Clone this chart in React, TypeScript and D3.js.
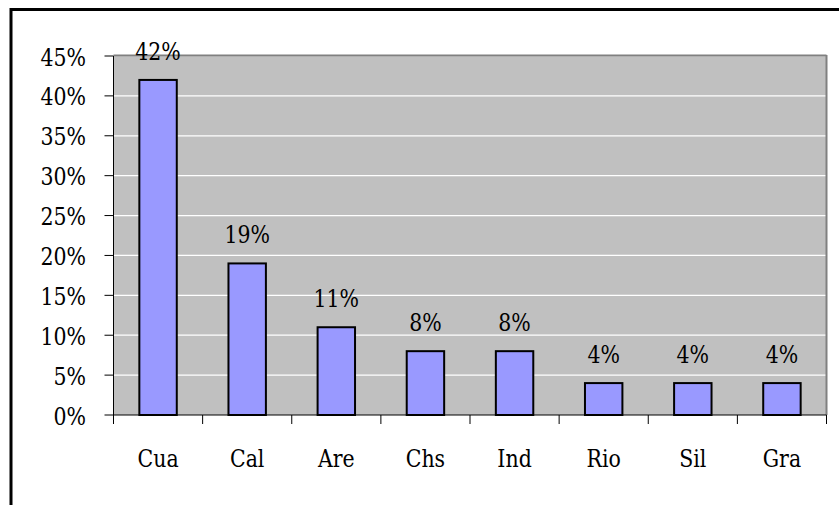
import React from "react";
import * as d3 from "d3";

const categories = ["Cua", "Cal", "Are", "Chs", "Ind", "Rio", "Sil", "Gra"];
const values = [42, 19, 11, 8, 8, 4, 4, 4];
const yTicks = [0, 5, 10, 15, 20, 25, 30, 35, 40, 45];

const font = '"DejaVu Serif", "Liberation Serif", serif';
const fs = 25;
const sx = 0.82;

function Label({ x, y, anchor, children }: { x: number; y: number; anchor: string; children: React.ReactNode }) {
  return (
    <text
      transform={`translate(${x},${y}) scale(${sx},1)`}
      textAnchor={anchor}
      style={{ fontFamily: font, fontSize: fs }}
      fill="#000"
    >
      {children}
    </text>
  );
}

export default function App() {
  const W = 839, H = 505;
  const left = 113.5, right = 826.5, top = 56, bottom = 415;
  const x = d3.scaleBand<string>().domain(categories).range([left, right]).paddingInner(0).paddingOuter(0);
  const y = d3.scaleLinear().domain([0, 45]).range([bottom, top]);
  const bw = x.bandwidth() * 0.42;
  return (
    <svg width={W} height={H} style={{ position: "absolute", left: 0, top: 0, background: "#fff" }}>
      <rect x={11} y={9.5} width={900} height={600} fill="#fff" stroke="#000" strokeWidth={3} />
      <rect x={left} y={top} width={right - left} height={bottom - top} fill="#C0C0C0" />
      {yTicks.slice(1).map((t) => (
        <line key={t} x1={left} x2={right} y1={y(t)} y2={y(t)} stroke="#FFFFFF" strokeWidth={1.2} />
      ))}
      <line x1={left} x2={right} y1={top - 0.5} y2={top - 0.5} stroke="#808080" strokeWidth={2} />
      <line x1={right} x2={right} y1={top - 1} y2={bottom} stroke="#808080" strokeWidth={2} />
      {categories.map((c, i) => {
        const cx = (x(c) as number) + x.bandwidth() / 2;
        const v = values[i];
        return (
          <g key={c}>
            <rect x={cx - bw / 2} y={y(v)} width={bw} height={bottom - y(v)} fill="#9999FF" stroke="#000" strokeWidth={2} />
            <Label x={cx} y={y(v) - 20} anchor="middle">{v}%</Label>
            <Label x={cx} y={467} anchor="middle">{c}</Label>
          </g>
        );
      })}
      <line x1={left} x2={left} y1={top} y2={bottom} stroke="#000" strokeWidth={1} />
      <line x1={left - 0.5} x2={right} y1={bottom} y2={bottom} stroke="#000" strokeWidth={1} />
      {yTicks.map((t) => (
        <g key={t}>
          <line x1={left - 9} x2={left} y1={y(t)} y2={y(t)} stroke="#000" strokeWidth={1} />
          <Label x={86} y={y(t) + 9.5} anchor="end">{t}%</Label>
        </g>
      ))}
      {categories.map((c) => (
        <line key={"t" + c} x1={x(c) as number} x2={x(c) as number} y1={bottom} y2={bottom + 9} stroke="#000" strokeWidth={1} />
      ))}
      <line x1={right} x2={right} y1={bottom} y2={bottom + 9} stroke="#000" strokeWidth={1} />
    </svg>
  );
}
